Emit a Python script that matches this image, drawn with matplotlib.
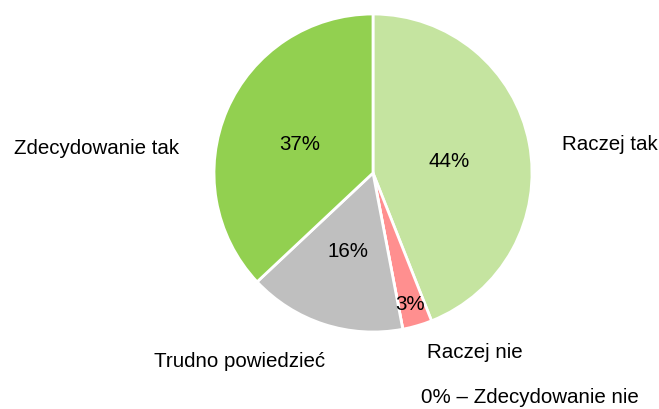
import matplotlib
matplotlib.use("Agg")
import matplotlib.pyplot as plt
import numpy as np

categories = ["Raczej tak", "Raczej nie", "Zdecydowanie nie", "Trudno powiedzieć", "Zdecydowanie tak"]
values = [44, 3, 0, 16, 37]
colors = ["#c5e4a0", "#ff8f8f", "#c00000", "#bfbfbf", "#92d050"]

plt.rcParams['font.family'] = ['Liberation Sans', 'DejaVu Sans']

W, H = 659, 410
fig = plt.figure(figsize=(W / 100, H / 100), dpi=100)
ax = fig.add_axes([0, 0, 1, 1])

cx, cy, R = 373, H - 174, 159
wedges, _ = ax.pie(values, colors=colors, startangle=90, counterclock=False,
                   center=(cx, cy), radius=R, frame=True,
                   wedgeprops=dict(edgecolor='white', linewidth=2))
ax.set_xlim(0, W)
ax.set_ylim(0, H)
ax.set_aspect('equal')
ax.axis('off')

fs = 14.8
# percentage labels (radial fraction of radius)
pct_dist = [0.49, 0.84, None, 0.5, 0.5]
total = sum(values)
cum = 0
for v, d in zip(values, pct_dist):
    mid = 90 - (cum + v / 2) / total * 360
    cum += v
    if d is None:
        continue
    a = np.deg2rad(mid)
    ax.text(cx + d * R * np.cos(a), cy + d * R * np.sin(a) - 2, f"{v}%",
            ha='center', va='center', fontsize=fs)

# category labels (outside)
label_pos = {
    "Raczej tak": (610, 145),
    "Raczej nie": (475, 353),
    "Zdecydowanie nie": (530, 398),
    "Trudno powiedzieć": (240, 362),
    "Zdecydowanie tak": (97, 148),
}
for cat, v in zip(categories, values):
    x, y = label_pos[cat]
    txt = f"{v}% – {cat}" if v == 0 else cat
    ax.text(x, H - y, txt, ha='center', va='center', fontsize=fs)

fig.savefig("out.png", dpi=100)
